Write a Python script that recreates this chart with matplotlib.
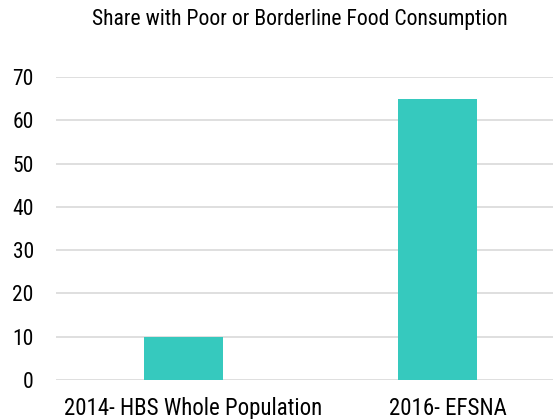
import matplotlib.pyplot as plt
from matplotlib import font_manager
from matplotlib.transforms import ScaledTranslation

categories = ["2014- HBS Whole Population", "2016- EFSNA"]
values = [10, 65]
yticks = [0, 10, 20, 30, 40, 50, 60, 70]

names = {f.name for f in font_manager.fontManager.ttflist}
fam = "Roboto Condensed" if "Roboto Condensed" in names else "Roboto"
plt.rcParams["font.family"] = [fam, "DejaVu Sans"]

W, H = 553, 419
fig = plt.figure(figsize=(W / 100, H / 100), dpi=100)
# axes span x from 56 px to beyond the right edge, y from 380 (0) to 77 (70)
left, right = 56, 565
bottom, top = 380, 77
ax = fig.add_axes([left / W, 1 - bottom / H, (right - left) / W, (bottom - top) / H])

x = range(len(categories))
ax.bar(x, values, width=0.312, color="#36C9BE", zorder=3)
ax.set_xlim(-0.5, 1.5)
ax.set_ylim(0, 70)
ax.set_yticks(yticks)
ax.set_xticks(list(x))
ax.set_xticklabels(categories, fontsize=16.5)
ax.tick_params(axis="y", labelsize=15.5, length=0, pad=16)
ax.tick_params(axis="x", length=0, pad=12)
shift = ScaledTranslation(10 / 100, 0, fig.dpi_scale_trans)
for lab in ax.get_xticklabels():
    lab.set_transform(lab.get_transform() + shift)
ax.grid(axis="y", color="#d9d9d9", linewidth=1.2, zorder=0)
for s in ax.spines.values():
    s.set_visible(False)

fig.text(300 / W, 1 - 20 / H, "Share with Poor or Borderline Food Consumption",
         ha="center", va="center", fontsize=15.6)

fig.savefig("out.png", dpi=100)
